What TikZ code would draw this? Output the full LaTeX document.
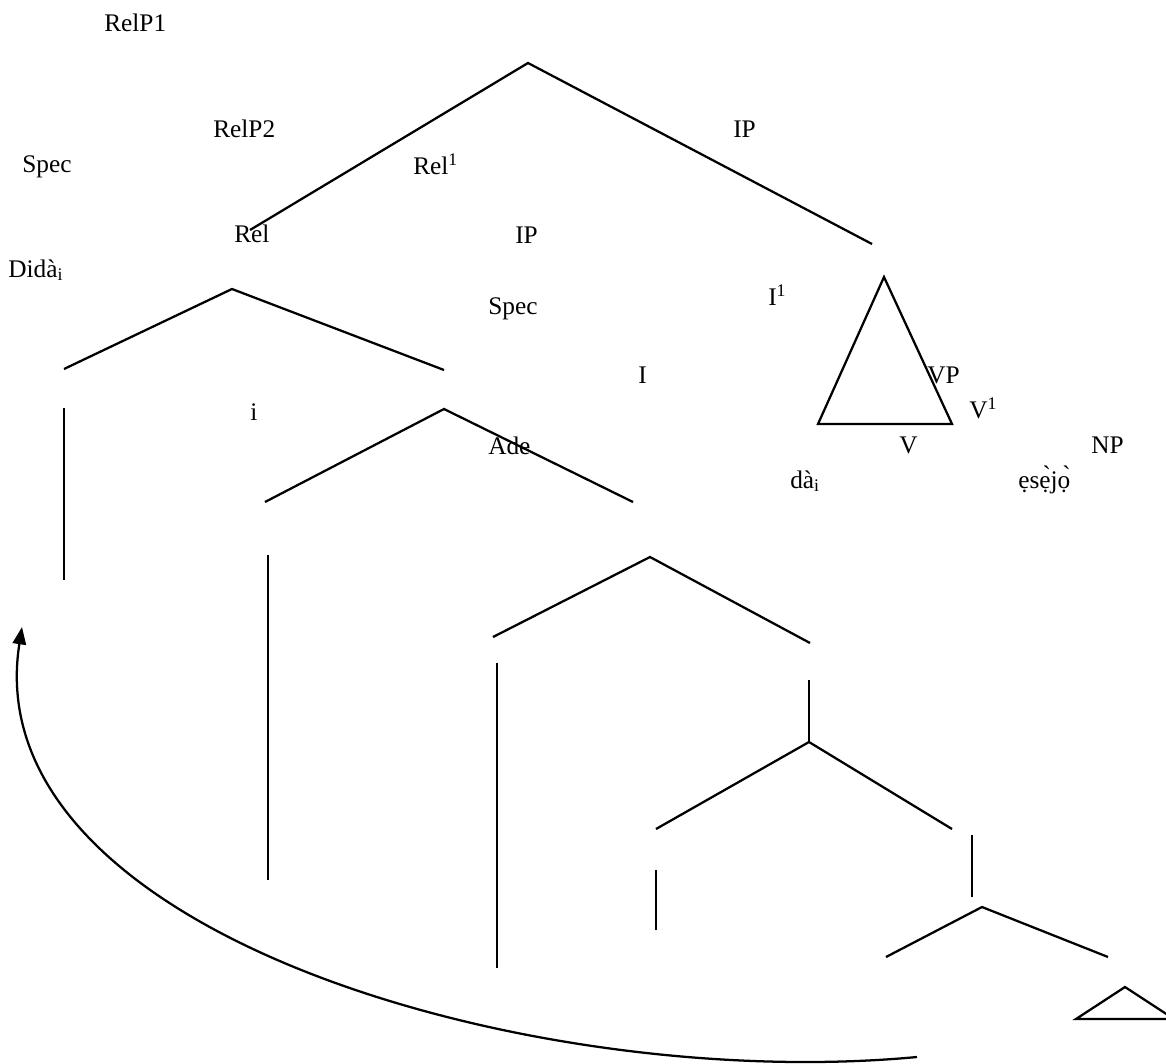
\documentclass[tikz,border=0pt]{standalone}
\usepackage{fontspec}
\setmainfont{Liberation Serif}
\usetikzlibrary{arrows.meta}

\begin{document}
\begin{tikzpicture}[x=0.75pt, y=-0.75pt,
  every node/.style={font=\fontsize{19}{22}\selectfont, inner sep=0pt, anchor=base west},
  branch/.style={line width=1.7pt},
  movearrow/.style={line width=1.7pt, -{Triangle[length=13pt, width=10pt]}}]
\useasboundingbox (0,0) rectangle (1166,1063);

% Labels, placed where the original has them
\node (relpa)  at (104,32)  {RelP1};
\node (relpb)  at (213,137) {RelP2};
\node (specA)  at (22,172)  {Spec};
\node (relbar) at (413,174) {Rel\textsuperscript{1}};
\node (ipA)    at (733,137) {IP};
\node (rel)    at (234,242) {Rel};
\node (ipB)    at (515,243) {IP};
\node (dida)   at (8,277)   {Didà\textsubscript{i}};
\node (specB)  at (488,314) {Spec};
\node (ibar)   at (768,305) {I\textsuperscript{1}};
\node (infl)   at (638,383) {I};
\node (vp)     at (927,383) {VP};
\node (relI)   at (250,420) {i};
\node (vbar)   at (969,418) {V\textsuperscript{1}};
\node (ade)    at (488,454) {Ade};
\node (verb)   at (899,453) {V};
\node (np)     at (1091,453) {NP};
\node (da)     at (790,488) {dà\textsubscript{i}};
\node (eseyo)  at (1018,488) {ẹsẹ̀jọ̀};

% Branch points
\coordinate (r0) at (528,63);   \coordinate (r1) at (250,230);  \coordinate (r2) at (872,244);
\coordinate (a0) at (232,289);  \coordinate (a1) at (64,369);   \coordinate (a2) at (444,370);
\coordinate (b0) at (444,409);  \coordinate (b1) at (265,502);  \coordinate (b2) at (633,502);
\coordinate (c0) at (650,557);  \coordinate (c1) at (493,637);  \coordinate (c2) at (810,643);
\coordinate (d0) at (809,742);  \coordinate (d1) at (656,829);  \coordinate (d2) at (952,829);
\coordinate (e0) at (982,907);  \coordinate (e1) at (886,957);  \coordinate (e2) at (1108,957);

% Forks
\foreach \p in {r,a,b,c,d,e}{
  \draw[branch] (\p1) -- (\p0) -- (\p2);
}

% Stems
\foreach \x/\ya/\yb in {64/408/580, 268/555/880, 497/663/968, 809/680/741, 656/870/930, 972/835/897}{
  \draw[branch] (\x,\ya) -- (\x,\yb);
}

% Triangles
\draw[branch] (884,277) -- (818,424) -- (952,424) -- cycle;
\draw[branch] (1125,987) -- (1076,1019) -- (1174,1019) -- cycle;

% Movement arrow
\coordinate (trace) at (917,1057);
\coordinate (head)  at (22,627);
\draw[movearrow] (trace) .. controls (533,1093) and (-26,933) .. (head);

\end{tikzpicture}
\end{document}
